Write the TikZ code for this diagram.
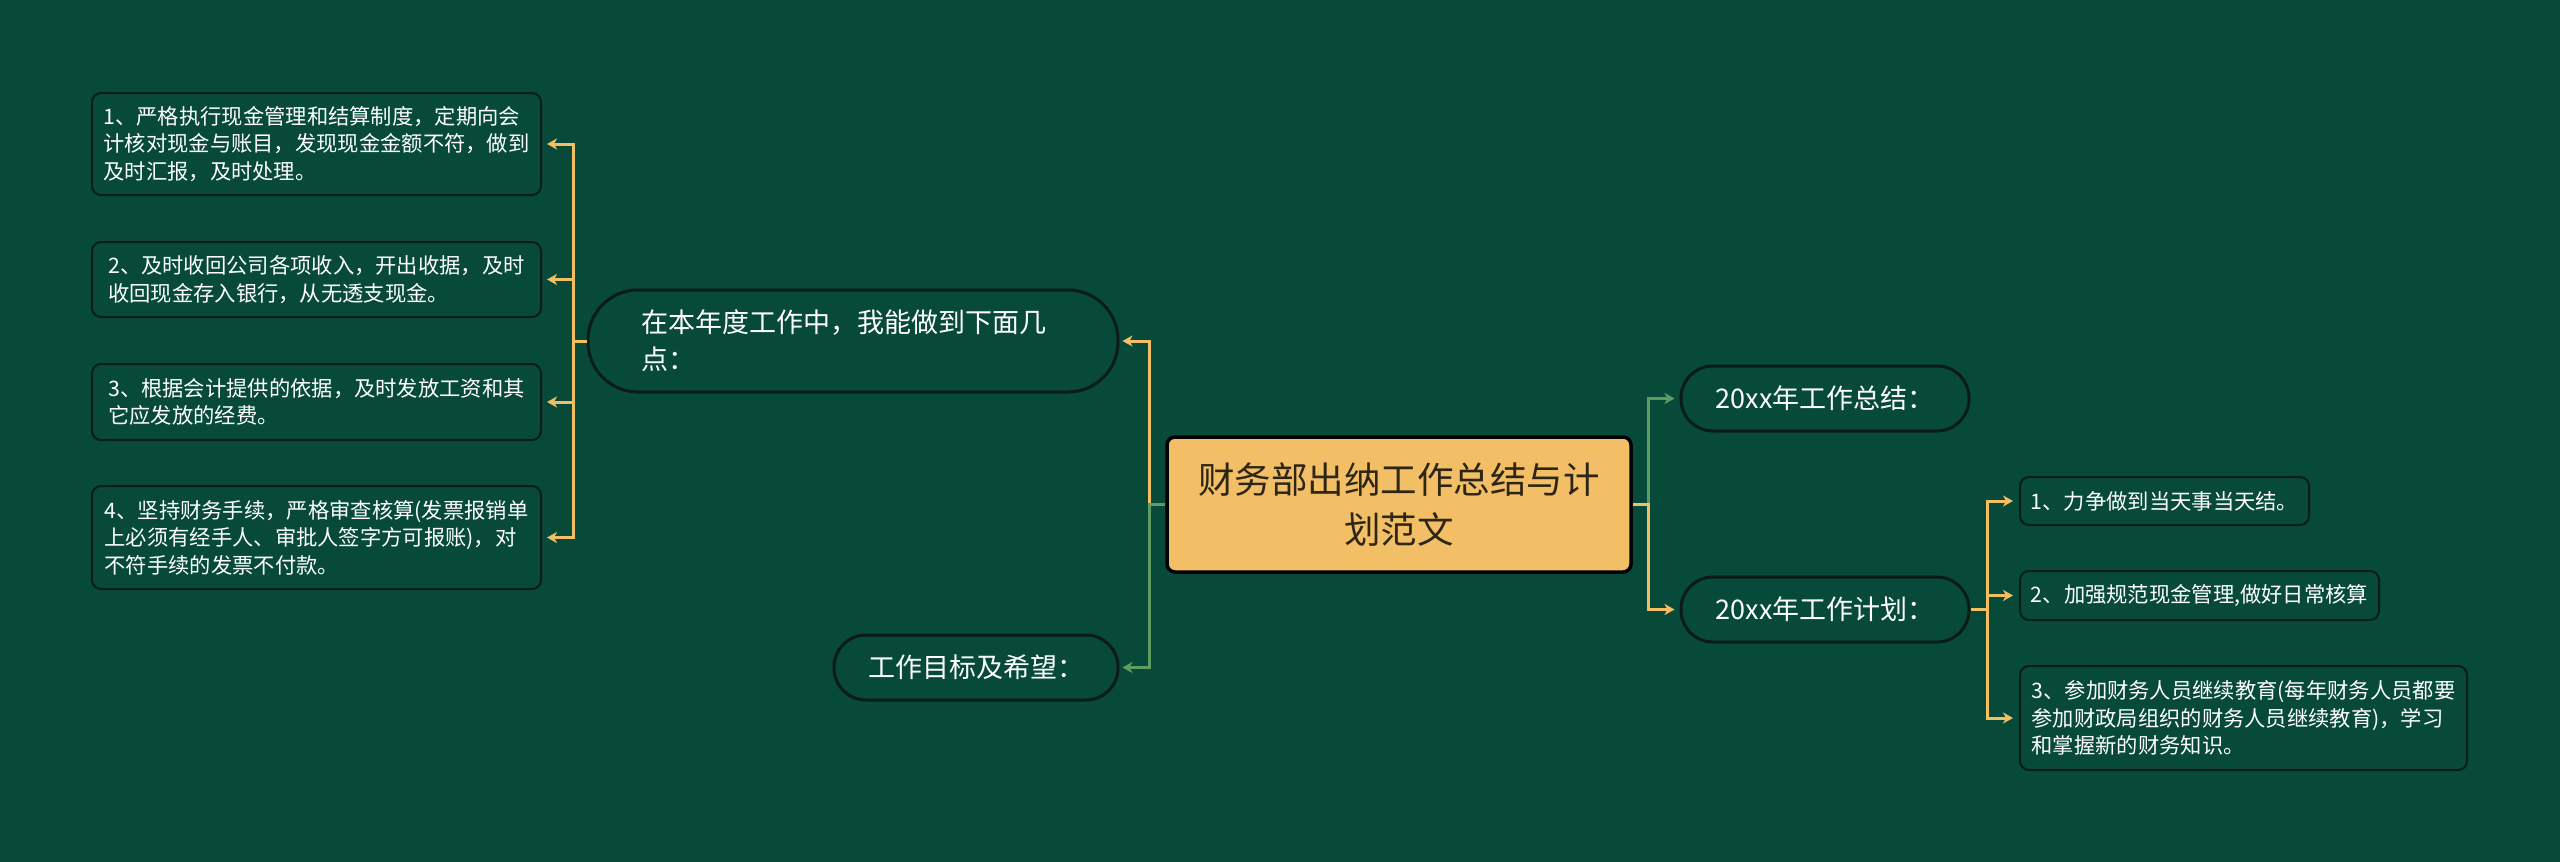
\documentclass[tikz,border=0pt]{standalone}
\usepackage{fontspec}
\setmainfont{Noto Sans CJK SC}
\usetikzlibrary{arrows.meta,calc}
\definecolor{bg}{HTML}{074A3A}
\definecolor{edgec}{HTML}{0A1C15}
\definecolor{yel}{HTML}{F2C063}
\definecolor{grn}{HTML}{5E9C62}
\definecolor{rootfill}{HTML}{F2BE66}
\definecolor{roottext}{HTML}{2E2615}
\begin{document}
\begin{tikzpicture}[x=1pt,y=-1pt,
  pill/.style={draw=edgec, line width=3pt, fill=bg, text=white, rounded corners=#1, inner sep=0pt, align=left, font=\fontsize{27}{37}\selectfont},
  smallbox/.style={draw=edgec, line width=2pt, fill=bg, text=white, rounded corners=9pt, inner sep=0pt, align=left, font=\fontsize{21.3}{27.5}\selectfont},
  rootbox/.style={draw=black, line width=3.5pt, fill=rootfill, text=roottext, rounded corners=8pt, inner sep=0pt, align=center, font=\fontsize{36.5}{50}\selectfont},
  yarrow/.style={draw=yel, line width=3pt, -{Stealth[length=10pt,width=11pt,inset=3pt]}},
  garrow/.style={draw=grn, line width=3pt, -{Stealth[length=10pt,width=11pt,inset=3pt]}}
]
\fill[bg] (0,0) rectangle (2560,862);
\useasboundingbox (0,0) rectangle (2560,862);

% nodes
\node[rootbox, minimum width=464pt, minimum height=135pt] (root) at (1399,504.5) {财务部出纳工作总结与计\\划范文};

\node[pill=50pt, minimum width=530pt, minimum height=102pt, text width=424pt] (b1) at (853,341) {在本年度工作中，我能做到下面几\\点：};
\node[pill=32pt, minimum width=284pt, minimum height=65pt] (b2) at (976,667.5) {工作目标及希望：};
\node[pill=32pt, minimum width=288pt, minimum height=65pt] (s1) at (1825,398.5) {20xx年工作总结：};
\node[pill=32pt, minimum width=288pt, minimum height=65pt] (s2) at (1825,609.5) {20xx年工作计划：};

\node[smallbox, minimum width=449pt, minimum height=102pt] (l1) at (316.5,144) {1、严格执行现金管理和结算制度，定期向会\\计核对现金与账目，发现现金金额不符，做到\\及时汇报，及时处理。};
\node[smallbox, minimum width=449pt, minimum height=75pt] (l2) at (316.5,279.5) {2、及时收回公司各项收入，开出收据，及时\\收回现金存入银行，从无透支现金。};
\node[smallbox, minimum width=449pt, minimum height=76pt] (l3) at (316.5,402) {3、根据会计提供的依据，及时发放工资和其\\它应发放的经费。};
\node[smallbox, minimum width=449pt, minimum height=103pt] (l4) at (316.5,537.5) {4、坚持财务手续，严格审查核算(发票报销单\\上必须有经手人、审批人签字方可报账)，对\\不符手续的发票不付款。};

\node[smallbox, minimum width=289pt, minimum height=48pt] (r1) at (2164.5,501) {1、力争做到当天事当天结。};
\node[smallbox, minimum width=359pt, minimum height=49pt] (r2) at (2199.5,595.5) {2、加强规范现金管理,做好日常核算};
\node[smallbox, minimum width=447pt, minimum height=104pt] (r3) at (2243.5,718) {3、参加财务人员继续教育(每年财务人员都要\\参加财政局组织的财务人员继续教育)，学习\\和掌握新的财务知识。};

% trunks
\coordinate (tL) at (1149,504);
\coordinate (tB) at (573,341);
\coordinate (tR) at (1648,504);
\coordinate (tP) at (1987,609);

% connectors
\draw[yarrow, shorten >=3pt] (root.west) -- (root.west -| tL) |- (b1.east);
\draw[garrow, shorten >=3pt] (root.west) -- (root.west -| tL) |- (b2.east);

\foreach \c in {l1,l2,l3,l4}
  \draw[yarrow, shorten >=5pt] (b1.west) -- (b1.west -| tB) |- (\c.east);

\draw[garrow, shorten >=5pt] (root.east) -- (root.east -| tR) |- (s1.west);
\draw[yarrow, shorten >=5pt] (root.east) -- (root.east -| tR) |- (s2.west);

\foreach \c in {r1,r2,r3}
  \draw[yarrow, shorten >=6pt] (s2.east) -- (s2.east -| tP) |- (\c.west);
\end{tikzpicture}
\end{document}
